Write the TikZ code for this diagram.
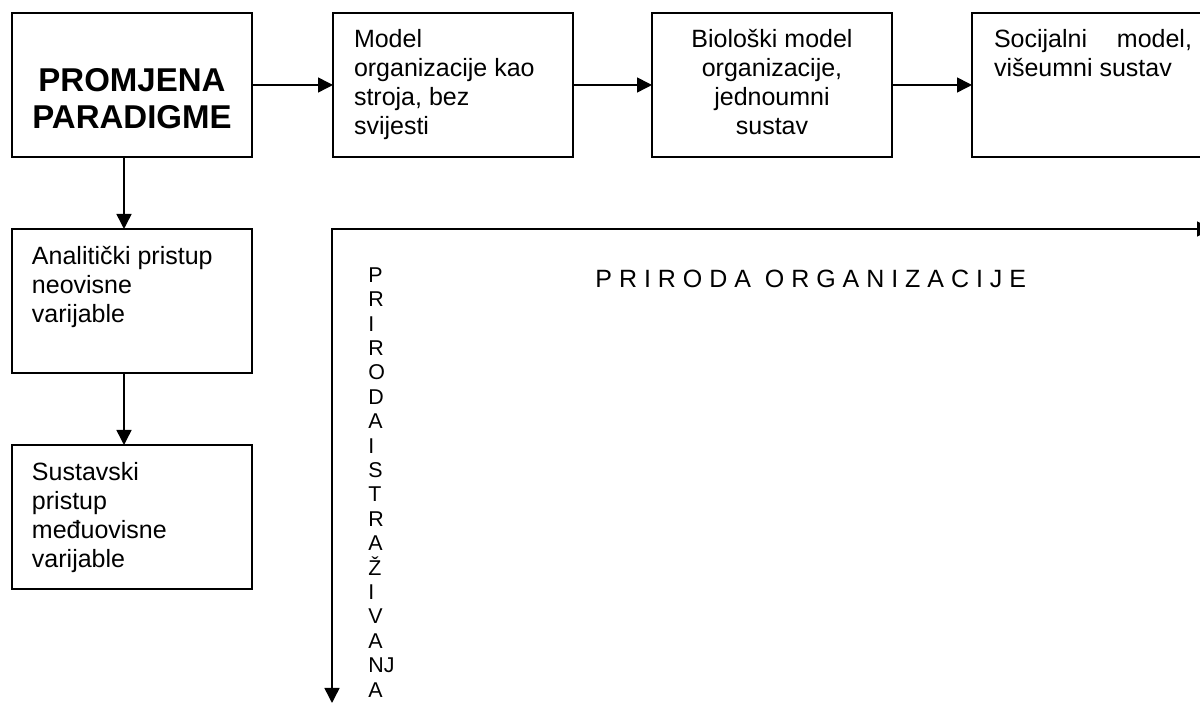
\documentclass[tikz,border=0pt]{standalone}
\usepackage{fontspec}
\setmainfont{Liberation Sans}
\usetikzlibrary{arrows.meta}
\begin{document}
\begin{tikzpicture}[x=0.5pt,y=-0.5pt,
  box/.style={draw, line width=0.9pt, minimum width=120pt, minimum height=72pt,
              inner sep=0pt, outer sep=0pt, anchor=north west},
  txt/.style={inner sep=0pt, outer sep=0pt, anchor=north west, align=left,
              font=\fontsize{12.5pt}{14.5pt}\selectfont},
  big/.style={inner sep=0pt, align=center, font=\fontsize{16.5pt}{18.5pt}\selectfont\bfseries},
  arr/.style={line width=0.75pt, -{Triangle[length=7.5pt,width=7.5pt]}},
  axis/.style={line width=0.75pt, line join=miter,
               {Triangle[length=7.5pt,width=7.5pt]}-{Triangle[length=7.5pt,width=7.5pt]}}]
\useasboundingbox (0,0) rectangle (1200,704);
\clip (0,0) rectangle (1200,704);

% boxes
\node[box] (p) at (12,13) {};
\node[box] (m) at (333,13) {};
\node[box] (b) at (652,13) {};
\node[box] (s) at (972,13) {};
\node[box] (an) at (12,229) {};
\node[box] (su) at (12,445) {};

% box texts
\node[big] (pt) at ([yshift=-6.85pt]p.center) {PROMJENA\\PARADIGME};
\node[txt] (mt) at ([xshift=10.5pt,yshift=-7.35pt]m.north west)
  {\strut Model\\organizacije kao\\stroja, bez\\svijesti};
\node[txt, anchor=north, align=center] (bt) at ([yshift=-7.35pt]b.north)
  {\strut Biološki model\\organizacije,\\jednoumni\\sustav};
\node[txt] (stx) at ([xshift=11pt,yshift=-7.35pt]s.north west)
  {\strut\hbox to 99pt{Socijalni\hfill model,}\\višeumni sustav};
\node[txt] (ant) at ([xshift=10pt,yshift=-7.85pt]an.north west)
  {\strut Analitički pristup\\neovisne\\varijable};
\node[txt] (sut) at ([xshift=10pt,yshift=-7.85pt]su.north west)
  {\strut Sustavski\\pristup\\međuovisne\\varijable};

% arrows between boxes
\draw[arr] (p.east) -- (m.west);
\draw[arr] (m.east) -- (b.west);
\draw[arr] (b.east) -- (s.west);
\draw[arr] ([xshift=-4pt]p.south) -- ([xshift=-4pt]an.north);
\draw[arr] ([xshift=-4pt]an.south) -- ([xshift=-4pt]su.north);

% axes
\coordinate (o) at (332,229);
\coordinate (xe) at (1212,229);
\coordinate (ye) at (332,703);
\draw[axis] (ye) -- (o) -- (xe);

\node[inner sep=0pt, anchor=base west, font=\fontsize{12.5pt}{14.5pt}\selectfont] (po) at (595,288)
  {P R I R O D A\ \ O R G A N I Z A C I J E};
\node[inner sep=0pt, anchor=north west, align=left, font=\fontsize{10.7pt}{12.2pt}\selectfont] (pi) at (368,264.9)
  {\strut P\\R\\I\\R\\O\\D\\A\\I\\S\\T\\R\\A\\Ž\\I\\V\\A\\NJ\\A};
\end{tikzpicture}
\end{document}
